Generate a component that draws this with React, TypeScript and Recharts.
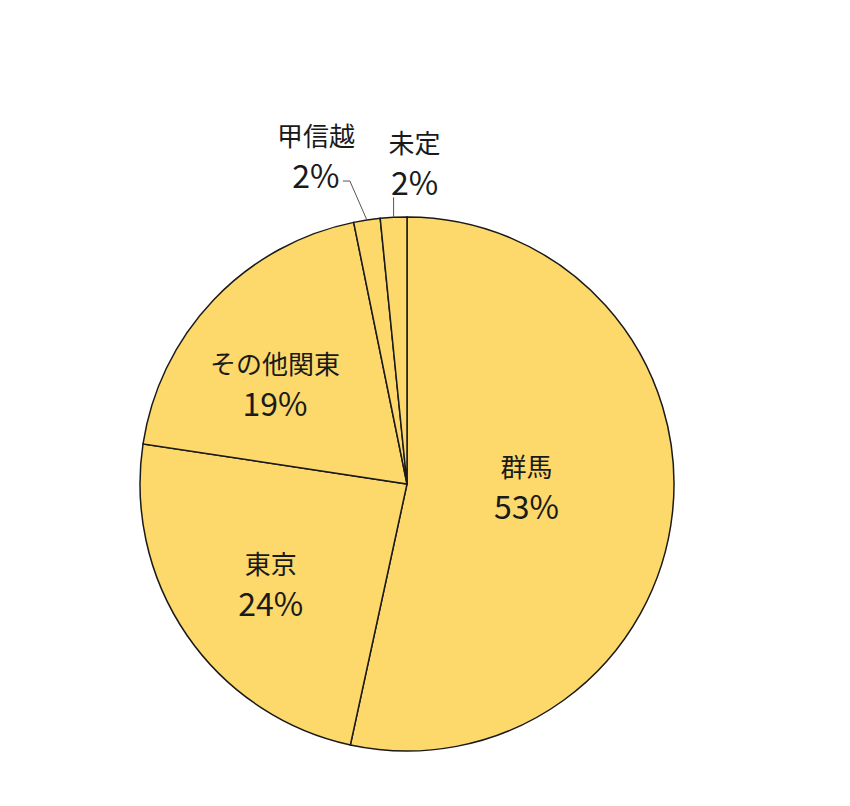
import { PieChart, Pie, Cell } from "recharts";

const regions = ["群馬", "東京", "その他関東", "甲信越", "未定"];
const shares = [53.4, 24.0, 19.4, 1.6, 1.6];

const data = regions.map((name, i) => ({ name, value: shares[i] }));

const RAD = Math.PI / 180;
const FONT = "'Noto Sans CJK JP', 'Noto Sans', sans-serif";
const TEXT = "#1a1a1a";

// inner label tweaks (radius factor, nudge)
const labelRadius = [0.45, 0.62, 0.62];
const labelNudge = [
  [0, -12],
  [0, 4],
  [-12, 12],
];

function renderLabel(props: any) {
  const { cx, cy, midAngle, outerRadius, index, name, value } = props;
  const pct = `${Math.round(value)}%`;
  const cos = Math.cos(-midAngle * RAD);
  const sin = Math.sin(-midAngle * RAD);

  if (index <= 2) {
    const r = outerRadius * labelRadius[index];
    const x = cx + r * cos + labelNudge[index][0];
    const y = cy + r * sin + labelNudge[index][1];
    return (
      <g key={`lbl-${index}`}>
        <text x={x} y={y - 19} textAnchor="middle" dominantBaseline="central" fill={TEXT} fontSize={26} fontFamily={FONT}>
          {name}
        </text>
        <text x={x} y={y + 20} textAnchor="middle" dominantBaseline="central" fill={TEXT} fontSize={32} fontFamily={FONT}>
          {pct}
        </text>
      </g>
    );
  }

  // small slices: labels outside with leader lines
  const ex = cx + outerRadius * cos;
  const ey = cy + outerRadius * sin;
  if (index === 3) {
    const bx = ex - 17;
    const by = ey - 39;
    const tx = bx - 34;
    return (
      <g key={`lbl-${index}`}>
        <polyline points={`${ex},${ey} ${bx},${by} ${bx - 7},${by}`} fill="none" stroke="#555" strokeWidth={1} />
        <text x={tx} y={by - 47} textAnchor="middle" dominantBaseline="central" fill={TEXT} fontSize={26} fontFamily={FONT}>
          {name}
        </text>
        <text x={tx} y={by - 7} textAnchor="middle" dominantBaseline="central" fill={TEXT} fontSize={32} fontFamily={FONT}>
          {pct}
        </text>
      </g>
    );
  }
  const top = ey - 20;
  const tx = ex + 21;
  return (
    <g key={`lbl-${index}`}>
      <line x1={ex} y1={ey} x2={ex} y2={top} stroke="#555" strokeWidth={1} />
      <text x={tx} y={top - 56} textAnchor="middle" dominantBaseline="central" fill={TEXT} fontSize={26} fontFamily={FONT}>
        {name}
      </text>
      <text x={tx} y={top - 16} textAnchor="middle" dominantBaseline="central" fill={TEXT} fontSize={32} fontFamily={FONT}>
        {pct}
      </text>
    </g>
  );
}

export default function App() {
  return (
    <div style={{ width: 834, height: 790, background: "#fff" }}>
      <PieChart width={834} height={790} margin={{ top: 0, right: 0, bottom: 0, left: 0 }}>
        <Pie
          data={data}
          dataKey="value"
          nameKey="name"
          cx={399}
          cy={476}
          outerRadius={267}
          startAngle={90}
          endAngle={-270}
          stroke="#1a1a1a"
          strokeWidth={1.5}
          label={renderLabel}
          labelLine={false}
          isAnimationActive={false}
        >
          {data.map((d) => (
            <Cell key={d.name} fill="#FDD86A" />
          ))}
        </Pie>
      </PieChart>
    </div>
  );
}
